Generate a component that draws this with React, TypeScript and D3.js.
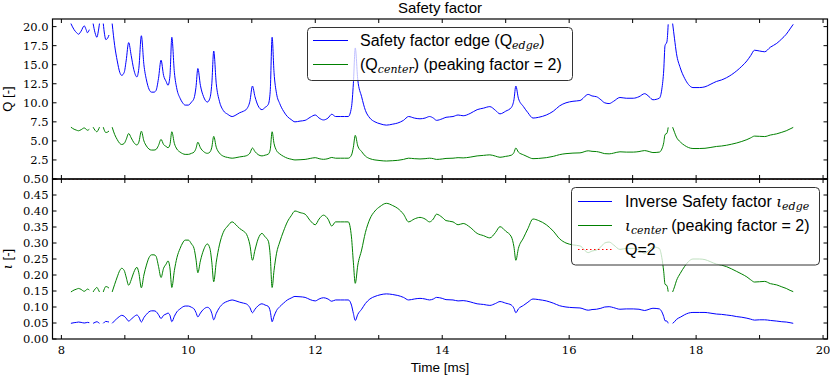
import React from "react";
import * as d3 from "d3";

const time = [
  8.15, 8.2, 8.24, 8.27, 8.31, 8.36, 8.39, 8.41, 8.44, 8.47,
  8.5, 8.53, 8.56, 8.58, 8.6, 8.63,
  8.66, 8.68, 8.7, 8.73, 8.75, 8.78,
  8.8, 8.84, 8.88, 8.92, 8.95, 8.99, 9.02, 9.06, 9.1, 9.14,
  9.19, 9.22, 9.26, 9.3, 9.34, 9.38, 9.42, 9.46, 9.49, 9.53,
  9.57, 9.61, 9.65, 9.68, 9.71, 9.74, 9.78, 9.82, 9.87, 9.91,
  9.95, 10.0, 10.05, 10.09, 10.12, 10.15, 10.19, 10.24, 10.3, 10.34,
  10.37, 10.4, 10.44, 10.49, 10.55, 10.62, 10.69, 10.75, 10.81, 10.87,
  10.92, 10.97, 11.01, 11.05, 11.1, 11.16, 11.21, 11.26, 11.29, 11.32,
  11.35, 11.39, 11.44, 11.5, 11.56, 11.62, 11.68, 11.76, 11.84, 11.92,
  12.0, 12.06, 12.13, 12.2, 12.26, 12.32, 12.4, 12.46, 12.52, 12.57,
  12.6, 12.63, 12.67, 12.73, 12.79, 12.86, 12.94, 13.02, 13.12, 13.22,
  13.3, 13.39, 13.47, 13.56, 13.65, 13.73, 13.8, 13.86, 13.91, 14.0,
  14.06, 14.17, 14.25, 14.33, 14.44, 14.55, 14.65, 14.75, 14.84, 14.91,
  15.0, 15.09, 15.13, 15.16, 15.2, 15.28, 15.35, 15.43, 15.52, 15.64,
  15.75, 15.85, 15.95, 16.06, 16.17, 16.3, 16.36, 16.43, 16.5, 16.56,
  16.63, 16.7, 16.8, 16.9, 17.01, 17.1, 17.19, 17.26, 17.32, 17.42,
  17.46, 17.49, 17.51, 17.54, 17.56, 17.59,
  17.63, 17.66, 17.69, 17.75, 17.82, 17.88, 17.95, 18.05, 18.14, 18.22,
  18.32, 18.4, 18.48, 18.56, 18.64, 18.72, 18.8, 18.86, 18.92, 19.0,
  19.08, 19.17, 19.27, 19.35, 19.42, 19.48, 19.53,
];

const qEdge = [
  20.4, 19.6, 19.2, 19.0, 19.4, 20.1, 19.6, 19.2, 19.6, null,
  20.4, 19.2, 18.6, 19.3, 20.4, null,
  20.4, 19.0, 18.3, 18.5, 18.9, null,
  20.4, 17.5, 15.5, 14.0, 13.6, 14.0, 15.5, 17.9, 16.2, 14.4,
  13.4, 14.5, 18.8, 15.0, 13.0, 11.8, 11.4, 11.4, 11.6, 13.2,
  15.6, 13.6, 12.8, 12.3, 13.5, 18.6, 14.0, 11.8, 10.6, 10.0,
  9.7, 9.7, 10.1, 10.6, 12.0, 14.5, 12.3, 10.8, 10.1, 10.6,
  12.5, 16.8, 12.5, 10.2, 9.0, 8.5, 8.2, 8.4, 8.7, 8.9,
  9.2, 10.2, 12.2, 10.8, 9.6, 9.1, 9.4, 9.8, 11.5, 18.6,
  14.0, 11.2, 9.9, 8.9, 8.2, 7.8, 7.5, 7.6, 7.7, 8.1,
  8.4, 8.0, 7.75, 8.0, 8.5, 8.2, 8.2, 8.2, 8.2, 9.4,
  12.5, 17.2, 13.0, 10.8, 9.0, 8.0, 7.5, 7.25, 7.07, 7.2,
  7.35, 7.7, 8.2, 8.0, 7.9, 8.0, 8.2, 8.0, 7.7, 7.9,
  8.1, 8.2, 8.4, 8.3, 8.6, 9.1, 9.3, 9.5, 9.0, 8.55,
  8.9, 9.4, 10.4, 12.2, 10.6, 9.5, 8.7, 8.0, 8.1, 8.4,
  8.9, 9.6, 10.0, 10.2, 10.3, 11.1, 10.9, 10.8, 10.4, 10.0,
  9.9, 10.2, 10.7, 10.6, 10.6, 10.8, 11.2, 10.8, 10.4, 10.6,
  11.8, 14.3, 17.5, 18.0, 20.3, null,
  20.4, 18.4, 16.5, 14.6, 13.2, 12.4, 12.0, 12.0, 12.1, 12.4,
  12.8, 13.0, 13.3, 13.7, 14.2, 14.8, 15.5, 16.2, 16.9, 16.8,
  16.7, 17.3, 17.8, 18.4, 19.0, 19.7, 20.3,
];

const qCenter = [
  6.8, 6.53, 6.4, 6.33, 6.47, 6.7, 6.53, 6.4, 6.53, null,
  6.8, 6.4, 6.2, 6.43, 6.8, null,
  6.8, 6.33, 6.1, 6.17, 6.3, null,
  6.8, 5.83, 5.17, 4.67, 4.53, 4.67, 5.17, 5.97, 5.4, 4.8,
  4.47, 4.83, 6.27, 5.0, 4.33, 3.93, 3.8, 3.8, 3.87, 4.4,
  5.2, 4.53, 4.27, 4.1, 4.5, 6.2, 4.67, 3.93, 3.53, 3.33,
  3.23, 3.23, 3.37, 3.53, 4.0, 4.83, 4.1, 3.6, 3.37, 3.53,
  4.17, 5.6, 4.17, 3.4, 3.0, 2.83, 2.73, 2.8, 2.9, 2.97,
  3.07, 3.4, 4.07, 3.6, 3.2, 3.03, 3.13, 3.27, 3.83, 6.2,
  4.67, 3.73, 3.3, 2.97, 2.73, 2.6, 2.5, 2.53, 2.57, 2.7,
  2.8, 2.67, 2.58, 2.67, 2.83, 2.73, 2.73, 2.73, 2.73, 3.13,
  4.17, 5.73, 4.33, 3.6, 3.0, 2.67, 2.5, 2.42, 2.36, 2.4,
  2.45, 2.57, 2.73, 2.67, 2.63, 2.67, 2.73, 2.67, 2.57, 2.63,
  2.7, 2.73, 2.8, 2.77, 2.87, 3.03, 3.1, 3.17, 3.0, 2.85,
  2.97, 3.13, 3.47, 4.07, 3.53, 3.17, 2.9, 2.67, 2.7, 2.8,
  2.97, 3.2, 3.33, 3.4, 3.43, 3.7, 3.63, 3.6, 3.47, 3.33,
  3.3, 3.4, 3.57, 3.53, 3.53, 3.6, 3.73, 3.6, 3.47, 3.53,
  3.93, 4.77, 5.83, 6.0, 6.77, null,
  6.8, 6.13, 5.5, 4.87, 4.4, 4.13, 4.0, 4.0, 4.03, 4.13,
  4.27, 4.33, 4.43, 4.57, 4.73, 4.93, 5.17, 5.4, 5.63, 5.6,
  5.57, 5.77, 5.93, 6.13, 6.33, 6.57, 6.77,
];

const iotaEdge = [
  0.049, 0.051, 0.052, 0.053, 0.052, 0.05, 0.051, 0.052, 0.051, null,
  0.049, 0.052, 0.054, 0.052, 0.049, null,
  0.049, 0.053, 0.055, 0.054, 0.053, null,
  0.049, 0.057, 0.065, 0.071, 0.074, 0.071, 0.065, 0.056, 0.062, 0.069,
  0.075, 0.069, 0.053, 0.067, 0.077, 0.085, 0.088, 0.088, 0.086, 0.076,
  0.064, 0.074, 0.078, 0.081, 0.074, 0.054, 0.071, 0.085, 0.094, 0.1,
  0.103, 0.103, 0.099, 0.094, 0.083, 0.069, 0.081, 0.093, 0.099, 0.094,
  0.08, 0.06, 0.08, 0.098, 0.111, 0.118, 0.122, 0.119, 0.115, 0.112,
  0.109, 0.098, 0.082, 0.093, 0.104, 0.11, 0.106, 0.102, 0.087, 0.054,
  0.071, 0.089, 0.101, 0.112, 0.122, 0.128, 0.133, 0.132, 0.13, 0.123,
  0.119, 0.125, 0.129, 0.125, 0.118, 0.122, 0.122, 0.122, 0.122, 0.106,
  0.08, 0.058, 0.077, 0.093, 0.111, 0.125, 0.133, 0.138, 0.141, 0.139,
  0.136, 0.13, 0.122, 0.125, 0.127, 0.125, 0.122, 0.125, 0.13, 0.127,
  0.123, 0.122, 0.119, 0.12, 0.116, 0.11, 0.108, 0.105, 0.111, 0.117,
  0.112, 0.106, 0.096, 0.082, 0.094, 0.105, 0.115, 0.125, 0.123, 0.119,
  0.112, 0.104, 0.1, 0.098, 0.097, 0.09, 0.092, 0.093, 0.096, 0.1,
  0.101, 0.098, 0.093, 0.094, 0.094, 0.093, 0.089, 0.093, 0.096, 0.094,
  0.085, 0.07, 0.057, 0.056, 0.049, null,
  0.049, 0.054, 0.061, 0.068, 0.076, 0.081, 0.083, 0.083, 0.083, 0.081,
  0.078, 0.077, 0.075, 0.073, 0.07, 0.068, 0.065, 0.062, 0.059, 0.06,
  0.06, 0.058, 0.056, 0.054, 0.053, 0.051, 0.049,
];

const iotaCenter = [
  0.147, 0.153, 0.156, 0.158, 0.155, 0.149, 0.153, 0.156, 0.153, null,
  0.147, 0.156, 0.161, 0.155, 0.147, null,
  0.147, 0.158, 0.164, 0.162, 0.159, null,
  0.147, 0.171, 0.194, 0.214, 0.221, 0.214, 0.194, 0.168, 0.185, 0.208,
  0.224, 0.207, 0.16, 0.2, 0.231, 0.254, 0.263, 0.263, 0.259, 0.227,
  0.192, 0.221, 0.234, 0.244, 0.222, 0.161, 0.214, 0.254, 0.283, 0.3,
  0.309, 0.309, 0.297, 0.283, 0.25, 0.207, 0.244, 0.278, 0.297, 0.283,
  0.24, 0.179, 0.24, 0.294, 0.333, 0.353, 0.366, 0.357, 0.345, 0.337,
  0.326, 0.294, 0.246, 0.278, 0.313, 0.33, 0.319, 0.306, 0.261, 0.161,
  0.214, 0.268, 0.303, 0.337, 0.366, 0.385, 0.4, 0.395, 0.39, 0.37,
  0.357, 0.375, 0.387, 0.375, 0.353, 0.366, 0.366, 0.366, 0.366, 0.319,
  0.24, 0.174, 0.231, 0.278, 0.333, 0.375, 0.4, 0.414, 0.424, 0.417,
  0.408, 0.39, 0.366, 0.375, 0.38, 0.375, 0.366, 0.375, 0.39, 0.38,
  0.37, 0.366, 0.357, 0.361, 0.349, 0.33, 0.323, 0.316, 0.333, 0.351,
  0.337, 0.319, 0.288, 0.246, 0.283, 0.316, 0.345, 0.375, 0.37, 0.357,
  0.337, 0.313, 0.3, 0.294, 0.291, 0.27, 0.275, 0.278, 0.288, 0.3,
  0.303, 0.294, 0.28, 0.283, 0.283, 0.278, 0.268, 0.278, 0.288, 0.283,
  0.254, 0.21, 0.171, 0.167, 0.148, null,
  0.147, 0.163, 0.182, 0.205, 0.227, 0.242, 0.25, 0.25, 0.248, 0.242,
  0.234, 0.231, 0.226, 0.219, 0.211, 0.203, 0.194, 0.185, 0.178, 0.179,
  0.18, 0.173, 0.169, 0.163, 0.158, 0.152, 0.148,
];

const xTicks = [8, 9, 10, 11, 12, 13, 14, 15, 16, 17, 18, 19, 20];
const xTickLabels = ["8", "", "10", "", "12", "", "14", "", "16", "", "18", "", "20"];
const qTicks = [0, 2.5, 5, 7.5, 10, 12.5, 15, 17.5, 20];
const qTickLabels = ["", "2.5", "5.0", "7.5", "10.0", "12.5", "15.0", "17.5", "20.0"];
const iotaTicks = [0, 0.05, 0.1, 0.15, 0.2, 0.25, 0.3, 0.35, 0.4, 0.45, 0.5];
const iotaTickLabels = ["0.00", "0.05", "0.10", "0.15", "0.20", "0.25", "0.30", "0.35", "0.40", "0.45", "0.50"];

const BLUE = "#0000ff";
const GREEN = "#008000";
const RED = "#ff0000";
const SERIF = "'DejaVu Serif', serif";
const SANS = "'Liberation Sans', Arial, sans-serif";

const L = 52.5, R = 827.5, T1 = 19, M = 179, B2 = 339;

export default function App() {
  const x = d3.scaleLinear().domain([7.86, 20.07]).range([L, R]);
  const yTop = d3.scaleLinear().domain([0, 21]).range([M, T1]);
  const yBot = d3.scaleLinear().domain([0, 0.5]).range([B2, M]);

  const mk = (ys: (number | null)[], y: d3.ScaleLinear<number, number>) =>
    d3
      .line<number>()
      .defined((_, i) => ys[i] != null)
      .curve(d3.curveMonotoneX)
      .x((t) => x(t))
      .y((_, i) => y(ys[i] as number))(time) || "";

  const tickLen = 4;

  const panel = (
    y: d3.ScaleLinear<number, number>,
    top: number,
    bottom: number,
    yt: number[],
    ytl: string[],
    showX: boolean
  ) => (
    <g>
      {xTicks.map((t, i) => (
        <g key={"x" + i}>
          <line x1={x(t)} x2={x(t)} y1={bottom} y2={bottom - tickLen} stroke="#000" />
          <line x1={x(t)} x2={x(t)} y1={top} y2={top + tickLen} stroke="#000" />
          {showX && xTickLabels[i] && (
            <text x={x(t)} y={bottom + 15} textAnchor="middle" fontFamily={SERIF} fontSize={11.5}>
              {xTickLabels[i]}
            </text>
          )}
        </g>
      ))}
      {yt.map((v, i) => (
        <g key={"y" + i}>
          <line x1={L} x2={L + tickLen} y1={y(v)} y2={y(v)} stroke="#000" />
          <line x1={R} x2={R - tickLen} y1={y(v)} y2={y(v)} stroke="#000" />
          {ytl[i] && (
            <text x={L - 4} y={y(v)} dy="0.36em" textAnchor="end" fontFamily={SERIF} fontSize={11.5}>
              {ytl[i]}
            </text>
          )}
        </g>
      ))}
    </g>
  );

  return (
    <div style={{ position: "absolute", left: 0, top: 0 }}>
      <svg width={830} height={377} style={{ display: "block", background: "#fff" }}>
        <defs>
          <clipPath id="cTop">
            <rect x={L} y={T1} width={R - L} height={M - T1} />
          </clipPath>
          <clipPath id="cBot">
            <rect x={L} y={M} width={R - L} height={B2 - M} />
          </clipPath>
        </defs>
        <rect width={830} height={377} fill="#fff" />

        <g clipPath="url(#cTop)" fill="none" strokeWidth={1}>
          <path d={mk(qEdge, yTop)} stroke={BLUE} />
          <path d={mk(qCenter, yTop)} stroke={GREEN} />
        </g>
        <g clipPath="url(#cBot)" fill="none" strokeWidth={1}>
          <path d={mk(iotaEdge, yBot)} stroke={BLUE} />
          <path d={mk(iotaCenter, yBot)} stroke={GREEN} />
          <line x1={L} x2={R} y1={yBot(0.5)} y2={yBot(0.5)} stroke={RED} strokeDasharray="1.5,2.5" />
        </g>

        {panel(yTop, T1, M, qTicks, qTickLabels, false)}
        {panel(yBot, M, B2, iotaTicks, iotaTickLabels, true)}

        <rect x={L} y={T1} width={R - L} height={M - T1} fill="none" stroke="#000" strokeWidth={1.2} />
        <rect x={L} y={M} width={R - L} height={B2 - M} fill="none" stroke="#000" strokeWidth={1.2} />

        <text x={(L + R) / 2} y={13} textAnchor="middle" fontFamily={SANS} fontSize={15}>
          Safety factor
        </text>
        <text transform={`translate(12,${(T1 + M) / 2}) rotate(-90)`} textAnchor="middle" fontFamily={SANS} fontSize={13}>
          Q [-]
        </text>
        <text transform={`translate(12,${(M + B2) / 2}) rotate(-90)`} textAnchor="middle" fontSize={13}>
          <tspan fontFamily={SERIF} fontStyle="italic">ι</tspan>
          <tspan fontFamily={SANS}> [-]</tspan>
        </text>
        <text x={(L + R) / 2} y={372} textAnchor="middle" fontFamily={SANS} fontSize={13.5}>
          Time [ms]
        </text>

        <g>
          <rect x={307.5} y={27.5} width={265} height={53} rx={4} fill="#fff" fillOpacity={0.75} stroke="#333" strokeWidth={1} />
          <line x1={313} x2={348} y1={40.5} y2={40.5} stroke={BLUE} strokeWidth={1} />
          <line x1={313} x2={348} y1={64.5} y2={64.5} stroke={GREEN} strokeWidth={1} />
          <text x={360} y={46} fontFamily={SANS} fontSize={16}>
            Safety factor edge (Q
            <tspan fontFamily={SERIF} fontStyle="italic" fontSize={11} dy={3}>edge</tspan>
            <tspan dy={-3}>)</tspan>
          </text>
          <text x={360} y={70} fontFamily={SANS} fontSize={16}>
            (Q
            <tspan fontFamily={SERIF} fontStyle="italic" fontSize={11} dy={3}>center</tspan>
            <tspan dy={-3}>) (peaking factor = 2)</tspan>
          </text>
        </g>

        <g>
          <rect x={571.5} y={187.5} width={248} height={77.5} rx={4} fill="#fff" fillOpacity={0.75} stroke="#333" strokeWidth={1} />
          <line x1={578} x2={612} y1={201.5} y2={201.5} stroke={BLUE} strokeWidth={1} />
          <line x1={578} x2={612} y1={225.5} y2={225.5} stroke={GREEN} strokeWidth={1} />
          <line x1={578} x2={612} y1={249.5} y2={249.5} stroke={RED} strokeWidth={1} strokeDasharray="1.5,2.5" />
          <text x={625} y={207} fontFamily={SANS} fontSize={16}>
            Inverse Safety factor{" "}
            <tspan fontFamily={SERIF} fontStyle="italic" fontSize={15}>ι</tspan>
            <tspan fontFamily={SERIF} fontStyle="italic" fontSize={11} dy={3}>edge</tspan>
          </text>
          <text x={625} y={231} fontFamily={SANS} fontSize={16}>
            <tspan fontFamily={SERIF} fontStyle="italic" fontSize={15}>ι</tspan>
            <tspan fontFamily={SERIF} fontStyle="italic" fontSize={11} dy={3}>center</tspan>
            <tspan dy={-3}> (peaking factor = 2)</tspan>
          </text>
          <text x={625} y={255} fontFamily={SANS} fontSize={16}>
            Q=2
          </text>
        </g>
      </svg>
    </div>
  );
}
